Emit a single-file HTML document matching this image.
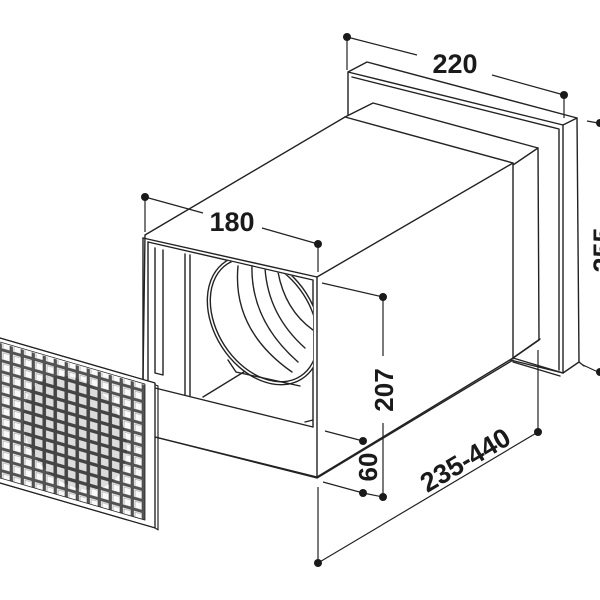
<!DOCTYPE html>
<html><head><meta charset="utf-8"><style>
html,body{margin:0;padding:0;background:#fff;}
svg{display:block;}
text{font-family:"Liberation Sans",sans-serif;font-weight:bold;fill:#1a1a1a;}
</style></head><body>
<svg width="600" height="600" viewBox="0 0 600 600" xmlns="http://www.w3.org/2000/svg">
<defs>
<pattern id="cells" x="0" y="0" width="11" height="11" patternUnits="userSpaceOnUse">
<rect x="0" y="0" width="11" height="11" fill="#555"/>
<rect x="1.5" y="1.5" width="8.5" height="8.5" fill="#fafafa" stroke="#333" stroke-width="0.5"/>
<path d="M3,9 L3,3 L9,3" fill="none" stroke="#888" stroke-width="0.6"/>
</pattern>
<pattern id="cells2" x="0" y="0" width="11" height="11" patternUnits="userSpaceOnUse">
<rect x="0" y="0" width="11" height="11" fill="#444"/>
<rect x="2" y="2" width="7.5" height="7.5" fill="#dcdcdc"/>
</pattern>
<clipPath id="open"><polygon points="148,242 313,281 313,427 148,388"/></clipPath>
</defs>
<g fill="none" stroke="#222" stroke-width="1.4" stroke-linejoin="round" stroke-linecap="round">
<polygon points="348,72 367,62 577,118 579,362 563,373 348,320" fill="#fff"/>
<path d="M348,72 L563,125 L563,373"/>
<path d="M352,77 L559,129 L559,370"/>
<path d="M563,125 L577,118"/>
<polygon points="345,117 373,103 538,148 539,340 513,358" fill="#fff"/>
<path d="M513,165 L538,148"/>
<path d="M513,358 L540,339"/>
<path d="M513,358 L563,373"/>
<path d="M513,362 L560,376"/>
<path d="M579,362 L584,366"/>
<polygon points="145,235 345,117 513,163 513,358 317,477 155,437 143,380" fill="#fff"/>
<path d="M143,238 L317,277 L513,163"/>
<path d="M143,238 L143,380"/>
<path d="M317,277 L317,477"/>
<path d="M155,437 L317,478 L513,360"/>
<path d="M148,242 L313,280 L313,427"/>
<path d="M148,242 L148,380"/>
<path d="M155,388 L313,427"/>
<path d="M155,248 L155,373 L163,375 L163,250"/>
<path d="M185,254 L185,395 M190,255 L190,396"/>
<path d="M203,397 L247,370"/>
<path d="M305,422 L313,420"/>
<g clip-path="url(#open)">
<ellipse cx="300" cy="300" rx="48" ry="70" transform="rotate(-33 300 300)"/>
<ellipse cx="264" cy="320" rx="50" ry="70" transform="rotate(-33 264 320)" fill="#fff"/>
<ellipse cx="264" cy="320" rx="47" ry="67" transform="rotate(-33 264 320)"/>
<path d="M238,266 Q232,330 292,372"/>
<path d="M252,264 Q250,320 298,362"/>
<path d="M265,268 Q268,315 305,348"/>
<path d="M278,272 Q285,310 313,330"/>
<path d="M228,360 L236,372 L300,386"/>
</g>
<g transform="matrix(1,0.29,0,1,0,338)" stroke-width="1.2">
<rect x="-10" y="0" width="165" height="145" fill="#fff"/>
<rect x="-10" y="5" width="155" height="135" fill="url(#cells)" stroke="none"/>
<ellipse cx="75" cy="73" rx="52" ry="55" fill="url(#cells2)" stroke="none"/>
<rect x="-10" y="0" width="165" height="145" fill="none"/>
<rect x="-10" y="4" width="155" height="136" fill="none" stroke-width="0.8"/>
<path d="M155,2 L158,2 L158,146 L155,145"/>
</g>
</g>
<g fill="none" stroke="#222" stroke-width="1.2">
<path d="M347,37 L417,55 M492,75 L564,95"/>
<path d="M347,37 L347,70 M564,95 L564,118"/>
<path d="M587,121 L598,123 M583,365 L598,372"/>
<path d="M145,197 L203,213 M262,228 L318,244"/>
<path d="M145,197 L145,232 M318,244 L318,272"/>
<path d="M322,283 L383,297 M383,297 L383,356 M383,423 L383,497"/>
<path d="M325,431 L363,441 M323,482 L363,493 L383,497"/>
<path d="M318,487 L318,563 L538,432 L538,350"/>
</g>
<g fill="#1a1a1a">
<circle cx="347" cy="37" r="4"/><circle cx="564" cy="95" r="4"/>
<circle cx="600" cy="123" r="4"/><circle cx="600" cy="372" r="4"/>
<circle cx="145" cy="197" r="4"/><circle cx="318" cy="244" r="4"/>
<circle cx="383" cy="297" r="4"/><circle cx="383" cy="497" r="4"/>
<circle cx="363" cy="441" r="4"/><circle cx="363" cy="493" r="4"/>
<circle cx="318" cy="563" r="4"/><circle cx="538" cy="432" r="4"/>
</g>
<text x="455" y="73" font-size="27" text-anchor="middle">220</text>
<text x="232" y="231" font-size="27" text-anchor="middle">180</text>
<text transform="translate(393,390) rotate(-90)" font-size="26" text-anchor="middle">207</text>
<text transform="translate(377,467) rotate(-90)" font-size="26" text-anchor="middle">60</text>
<text transform="translate(470,468) rotate(-30.5)" font-size="27" text-anchor="middle">235-440</text>
<text transform="translate(612,250) rotate(-90)" font-size="27" text-anchor="middle">255</text>
</svg>
</body></html>
